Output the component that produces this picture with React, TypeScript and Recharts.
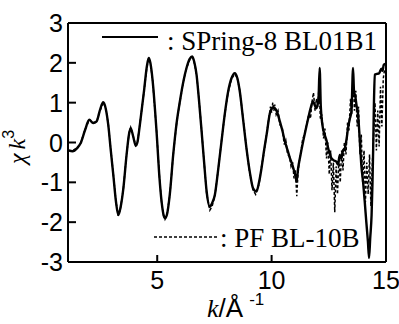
import React from "react";
import { LineChart, Line, XAxis, YAxis } from "recharts";

// ── Data ───────────────────────────────────────────────────────────

const K_SOLID = [
  1.12, 1.3, 1.5, 1.65, 1.85, 2.03, 2.2, 2.35, 2.5, 2.64, 2.75, 2.86, 2.97, 3.08, 3.2, 3.3, 3.4, 3.52,
  3.66, 3.77, 3.84, 3.95, 4.06, 4.14, 4.24, 4.42, 4.55, 4.63, 4.7, 4.8, 4.97, 5.1, 5.19, 5.27, 5.34,
  5.42, 5.55, 5.7, 5.85, 5.99, 6.15, 6.28, 6.42, 6.53, 6.62, 6.72, 6.82, 6.94, 7.05, 7.16, 7.3, 7.4,
  7.52, 7.65, 7.81, 7.95, 8.1, 8.25, 8.39, 8.5, 8.61, 8.75, 8.9, 9.05, 9.19, 9.34, 9.45, 9.56, 9.67,
  9.78, 9.92, 10.05, 10.14, 10.25, 10.36, 10.47, 10.58, 10.7, 10.8, 10.9, 10.97, 11.05, 11.09, 11.16,
  11.25, 11.38, 11.5, 11.6, 11.7, 11.81, 11.9, 11.96, 12.05, 12.1, 12.15, 12.22, 12.32, 12.4, 12.47,
  12.55, 12.61, 12.72, 12.83, 12.9, 12.98, 13.05, 13.12, 13.2, 13.28, 13.34, 13.42, 13.49, 13.56,
  13.6, 13.66, 13.72, 13.78, 13.85, 13.92, 14.0, 14.07, 14.14, 14.21, 14.26, 14.31, 14.37, 14.41,
  14.44, 14.47, 14.51, 14.6, 14.7, 14.8, 14.85, 14.9, 14.97,
];
const CHI_SOLID = [
  -0.2, -0.22, -0.14, -0.02, 0.32, 0.57, 0.49, 0.53, 0.82, 1.01, 0.85, 0.44, -0.2, -0.81, -1.5, -1.82,
  -1.62, -1.15, -0.31, 0.22, 0.36, 0.15, -0.08, 0.02, 0.44, 1.28, 1.92, 2.12, 2.0, 1.55, 0.28, -0.9,
  -1.48, -1.8, -1.9, -1.82, -1.3, -0.3, 0.5, 1.03, 1.55, 1.87, 2.1, 2.16, 2.02, 1.7, 1.1, 0.28, -0.5,
  -1.23, -1.61, -1.52, -1.31, -0.75, 0.03, 0.7, 1.28, 1.62, 1.74, 1.62, 1.28, 0.6, -0.14, -0.75, -1.15,
  -1.23, -1.0, -0.64, -0.2, 0.19, 0.72, 0.88, 0.86, 0.75, 0.53, 0.3, 0.03, -0.2, -0.39, -0.55, -0.69,
  -0.85, -0.98, -0.64, -0.35, 0.03, 0.35, 0.61, 0.85, 1.03, 0.92, 0.86, 1.1, 1.87, 0.9, 0.44, 0.19,
  0.05, -0.14, -0.3, -0.39, -0.45, -0.48, -0.55, -0.31, -0.4, -0.2, -0.14, 0.1, 0.36, 0.6, 0.78, 1.87,
  1.3, 1.15, 0.9, 0.7, 0.1, -0.56, -1.0, -1.48, -2.0, -2.49, -2.9, -2.4, -1.82, -1.0, -0.14, 0.9, 1.7,
  1.72, 1.74, 1.85, 1.8, 1.95, 1.97,
];

const K_DASH = [
  1.12, 1.3, 1.5, 1.65, 1.85, 2.03, 2.2, 2.35, 2.5, 2.64, 2.75, 2.86, 2.97, 3.08, 3.2, 3.3, 3.4, 3.52,
  3.66, 3.77, 3.84, 3.95, 4.06, 4.14, 4.24, 4.42, 4.55, 4.63, 4.7, 4.8, 4.97, 5.1, 5.19, 5.27, 5.34,
  5.42, 5.55, 5.7, 5.85, 5.99, 6.15, 6.28, 6.42, 6.53, 6.62, 6.72, 6.82, 6.94, 7.05, 7.16, 7.3, 7.4,
  7.52, 7.65, 7.81, 7.95, 8.1, 8.25, 8.39, 8.5, 8.61, 8.75, 8.9, 9.05, 9.19, 9.3, 9.34, 9.45, 9.56,
  9.67, 9.78, 9.88, 9.95, 10.0, 10.05, 10.1, 10.14, 10.2, 10.28, 10.36, 10.47, 10.55, 10.62, 10.7,
  10.78, 10.85, 10.92, 10.98, 11.04, 11.1, 11.15, 11.2, 11.28, 11.35, 11.45, 11.55, 11.62, 11.7, 11.76,
  11.83, 11.9, 11.96, 12.02, 12.08, 12.13, 12.2, 12.27, 12.33, 12.4, 12.46, 12.52, 12.58, 12.64, 12.7,
  12.76, 12.82, 12.88, 12.94, 13.0, 13.06, 13.12, 13.18, 13.25, 13.32, 13.38, 13.45, 13.5, 13.56,
  13.62, 13.68, 13.74, 13.8, 13.86, 13.92, 13.98, 14.04, 14.1, 14.16, 14.22, 14.28, 14.34, 14.4, 14.46,
  14.52, 14.58, 14.64, 14.7, 14.76, 14.82, 14.88, 14.94,
];
const CHI_DASH = [
  -0.2, -0.21, -0.13, -0.02, 0.33, 0.56, 0.5, 0.52, 0.8, 1.0, 0.86, 0.46, -0.18, -0.8, -1.5, -1.84,
  -1.63, -1.16, -0.3, 0.24, 0.38, 0.16, -0.07, 0.03, 0.45, 1.27, 1.9, 2.1, 2.0, 1.56, 0.3, -0.88,
  -1.5, -1.82, -1.93, -1.84, -1.32, -0.3, 0.5, 1.02, 1.54, 1.86, 2.08, 2.14, 2.0, 1.7, 1.12, 0.3, -0.5,
  -1.28, -1.7, -1.6, -1.34, -0.76, 0.04, 0.7, 1.26, 1.6, 1.72, 1.62, 1.3, 0.62, -0.14, -0.8, -1.2, -1.3,
  -1.2, -1.05, -0.6, -0.25, 0.22, 0.6, 0.9, 0.75, 1.0, 0.8, 0.95, 0.7, 0.8, 0.45, 0.35, -0.05, 0.05,
  -0.3, -0.35, -0.6, -0.5, -0.9, -0.7, -1.35, -0.8, -0.5, -0.25, 0.05, 0.25, 0.5, 0.7, 0.6, 1.0, 1.25,
  0.8, 1.1, 0.9, 1.5, 0.6, 0.7, 0.1, 0.35, -0.4, 0.0, -0.8, -0.2, -1.2, -0.5, -1.75, -0.6, -1.3, -0.4,
  -1.0, -0.2, -0.7, 0.0, -0.3, 0.5, 0.3, 1.1, 0.7, 1.6, 0.8, 1.3, 0.4, 0.9, -0.3, 0.2, -1.0, -0.2, -1.5,
  -0.5, -1.3, -0.3, -1.6, -0.6, 0.2, 1.0, -0.2, 0.8, -0.1, 1.4, 0.4, 1.6, 1.85,
];

const X_TICKS = [5, 10, 15];
const Y_TICKS = [-3, -2, -1, 0, 1, 2, 3];

const solidData = K_SOLID.map((k, i) => ({ k, chi: CHI_SOLID[i] }));
const dashData = K_DASH.map((k, i) => ({ k, chi: CHI_DASH[i] }));

// ── Ticks (inward tick marks, Helvetica-like labels) ───────────────

const SANS = "'Liberation Sans', Arial, sans-serif";
const SERIF = "'Liberation Serif', 'Times New Roman', serif";

function XTick({ x, y, payload }: any) {
  return (
    <g>
      {payload.value !== 15 && (
        <line x1={x} x2={x} y1={y} y2={y - 7} stroke="#000" strokeWidth={2} />
      )}
      <text x={x} y={y + 27} textAnchor="middle" fontFamily={SANS} fontSize={25} fill="#000">
        {payload.value}
      </text>
    </g>
  );
}

function YTick({ x, y, payload }: any) {
  return (
    <g>
      <line x1={x} x2={x + 8} y1={y} y2={y} stroke="#000" strokeWidth={2} />
      <text x={x - 5} y={y + 9} textAnchor="end" fontFamily={SANS} fontSize={25} fill="#000">
        {String(payload.value)}
      </text>
    </g>
  );
}

// ── Component ──────────────────────────────────────────────────────

export default function App() {
  const axisLine = { stroke: "#000", strokeWidth: 2 };
  return (
    <div style={{ position: "absolute", left: 0, top: 0, width: 399, height: 324, background: "#fff" }}>
      <LineChart
        width={399}
        height={324}
        margin={{ top: 22, right: 12, bottom: 61, left: 67 }}
      >
        <XAxis
          dataKey="k"
          type="number"
          domain={[1.1, 15]}
          ticks={X_TICKS}
          allowDataOverflow
          height={1}
          tickSize={0}
          tickMargin={0}
          axisLine={axisLine}
          tickLine={false}
          tick={<XTick />}
          interval={0}
        />
        <XAxis
          xAxisId="top"
          orientation="top"
          type="number"
          domain={[1.1, 15]}
          ticks={X_TICKS}
          height={1}
          tick={false}
          tickLine={false}
          axisLine={axisLine}
        />
        <YAxis
          type="number"
          domain={[-3, 3]}
          ticks={Y_TICKS}
          allowDataOverflow
          width={1}
          tickSize={0}
          tickMargin={0}
          axisLine={axisLine}
          tickLine={false}
          tick={<YTick />}
          interval={0}
        />
        <YAxis
          yAxisId="right"
          orientation="right"
          type="number"
          domain={[-3, 3]}
          ticks={Y_TICKS}
          width={1}
          tick={false}
          tickLine={false}
          axisLine={axisLine}
        />
        <Line
          data={dashData}
          dataKey="chi"
          type="linear"
          stroke="#000"
          strokeWidth={1.5}
          strokeDasharray="3 2"
          dot={false}
          isAnimationActive={false}
        />
        <Line
          data={solidData}
          dataKey="chi"
          type="monotone"
          stroke="#000"
          strokeWidth={2.4}
          dot={false}
          isAnimationActive={false}
        />
      </LineChart>

      {/* legend + axis titles */}
      <svg
        width={399}
        height={324}
        style={{ position: "absolute", left: 0, top: 0, pointerEvents: "none" }}
      >
        <line x1={102} x2={158} y1={37} y2={37} stroke="#000" strokeWidth={2} />
        <text x={167} y={50} fontFamily={SERIF} fontSize={27} fill="#000">
          : SPring-8 BL01B1
        </text>
        <line x1={154} x2={218} y1={237} y2={237} stroke="#000" strokeWidth={1.5} strokeDasharray="3 2" />
        <text x={220} y={247} fontFamily={SERIF} fontSize={27} fill="#000">
          : PF BL-10B
        </text>

        <text transform="translate(25,164) rotate(-90)" fontFamily={SERIF} fontSize={24} fill="#000">
          <tspan fontStyle="italic">χ</tspan>
          <tspan dx={4} fontStyle="italic">k</tspan>
          <tspan dy={-11} fontSize={16} fontFamily={SANS}>3</tspan>
        </text>

        <text x={207} y={317} fontSize={26} fill="#000">
          <tspan fontFamily={SERIF} fontStyle="italic">k</tspan>
          <tspan fontFamily={SANS}>/Å</tspan>
          <tspan dx={6} dy={-12} fontSize={17} fontFamily={SANS}>-1</tspan>
        </text>
      </svg>
    </div>
  );
}
